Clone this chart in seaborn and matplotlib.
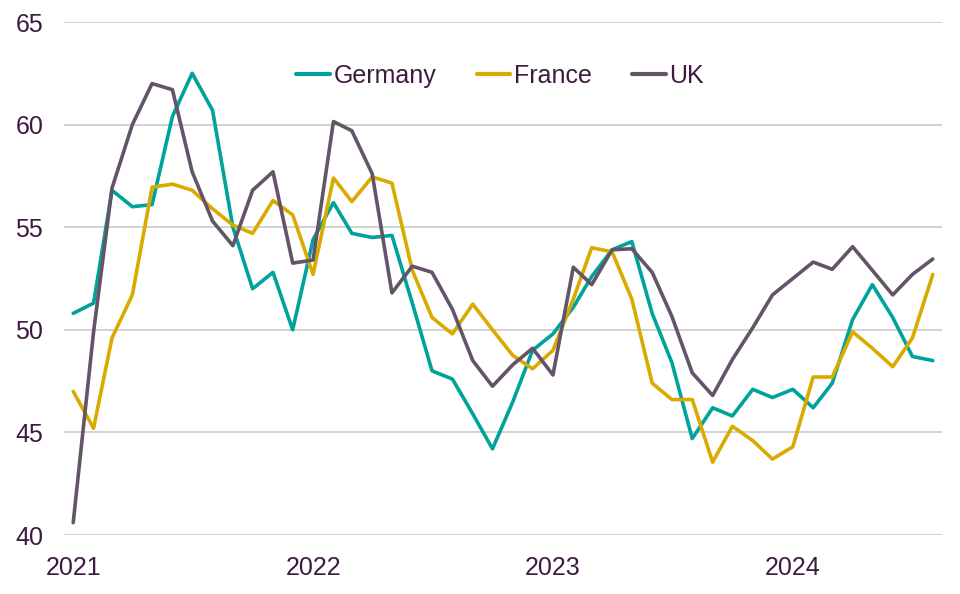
import numpy as np
import pandas as pd
import matplotlib
matplotlib.use("Agg")
import matplotlib.pyplot as plt
import seaborn as sns

months = pd.date_range("2021-01-01", periods=44, freq="MS")

germany = [50.8, 51.3, 56.8, 56.0, 56.1, 60.4, 62.5, 60.7, 55.0, 52.0, 52.8, 50.0,
           54.4, 56.2, 54.7, 54.5, 54.6, 51.3, 48.0, 47.6, 45.9, 44.2, 46.5, 49.0,
           49.8, 51.1, 52.6, 53.9, 54.3, 50.8, 48.4, 44.7, 46.2, 45.8, 47.1, 46.7,
           47.1, 46.2, 47.4, 50.5, 52.2, 50.6, 48.7, 48.5]
france = [47.0, 45.2, 49.6, 51.7, 56.95, 57.1, 56.8, 55.9, 55.1, 54.7, 56.3, 55.6,
          52.7, 57.4, 56.25, 57.45, 57.15, 52.9, 50.6, 49.8, 51.25, 50.0, 48.75, 48.1,
          49.0, 51.5, 54.0, 53.8, 51.5, 47.4, 46.6, 46.6, 43.55, 45.3, 44.6, 43.7,
          44.3, 47.7, 47.7, 49.9, 49.1, 48.2, 49.6, 52.7]
uk = [40.6, 49.9, 56.9, 60.0, 62.0, 61.7, 57.7, 55.3, 54.1, 56.8, 57.7, 53.25,
      53.4, 60.15, 59.7, 57.6, 51.8, 53.1, 52.8, 51.0, 48.5, 47.25, 48.3, 49.1,
      47.8, 53.05, 52.2, 53.9, 53.95, 52.8, 50.65, 47.9, 46.8, 48.55, 50.1, 51.7,
      52.5, 53.3, 52.95, 54.05, 52.9, 51.7, 52.7, 53.45]

series_names = ["Germany", "France", "UK"]
colors = {"Germany": "#00a39b", "France": "#d9aa00", "UK": "#635468"}
year_ticks = ["2021", "2022", "2023", "2024"]
y_ticks = [40, 45, 50, 55, 60, 65]

df = pd.DataFrame({"month": months, "Germany": germany, "France": france, "UK": uk})
long = df.melt(id_vars="month", var_name="country", value_name="value")

sns.set_theme(style="white")
plt.rcParams["font.family"] = ["Liberation Sans", "DejaVu Sans"]
text_color = "#3d1a40"

fig = plt.figure(figsize=(9.6, 5.94), dpi=100)
ax = fig.add_axes([64 / 960, 1 - 535 / 594, (942 - 64) / 960, (535 - 22) / 594])

sns.lineplot(data=long, x="month", y="value", hue="country", hue_order=series_names,
             palette=colors, linewidth=2.6, ax=ax, legend=True)

ax.set_ylim(40, 65)
ax.set_yticks(y_ticks)
ax.set_yticklabels([str(v) for v in y_ticks])
ax.set_xlim(pd.Timestamp("2020-12-18"), pd.Timestamp("2024-08-15"))
ax.set_xticks([pd.Timestamp(f"{y}-01-01") for y in year_ticks])
ax.set_xticklabels(year_ticks)
ax.grid(axis="y", color="#cfcfcf", linewidth=1.3)
ax.grid(axis="x", visible=False)
ax.set_axisbelow(True)
for s in ax.spines.values():
    s.set_visible(False)
ax.tick_params(axis="both", length=0, labelsize=18, labelcolor=text_color)
ax.tick_params(axis="y", pad=15)
ax.tick_params(axis="x", pad=15)
ax.set_xlabel("")
ax.set_ylabel("")

handles, labels = ax.get_legend_handles_labels()
leg = ax.legend(handles, labels, loc="upper center", bbox_to_anchor=(0.497, 0.962), ncol=3,
                frameon=False, fontsize=18, handlelength=1.35, handletextpad=0.15,
                columnspacing=1.6, labelcolor=text_color)
for line in leg.get_lines():
    line.set_linewidth(3)

fig.savefig("out.png", dpi=100)
